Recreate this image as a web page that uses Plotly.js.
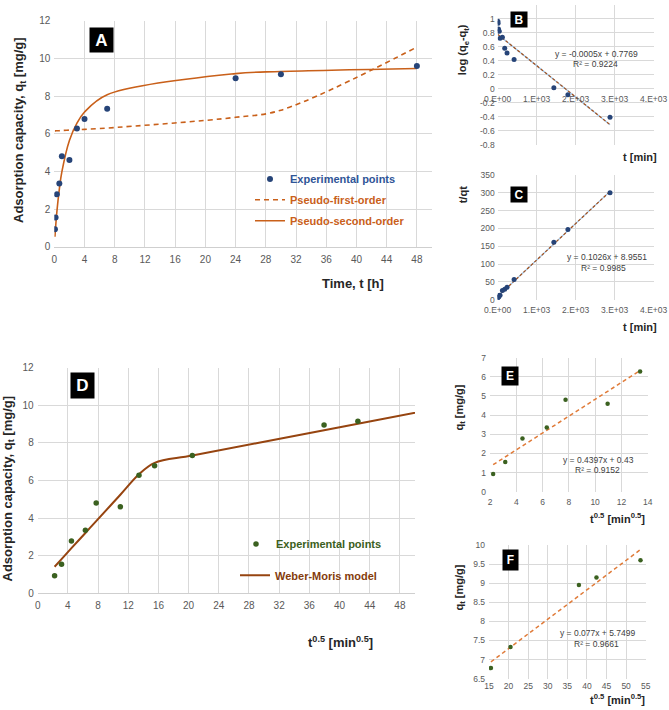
<!DOCTYPE html>
<html><head><meta charset="utf-8">
<script src="https://cdn.plot.ly/plotly-3.0.1.min.js"></script>
<style>html,body{margin:0;padding:0;background:#fff}#chart{width:669px;height:710px}</style>
</head><body><div id="chart"></div>
<script>
// ---------- DATA ----------
// Panel A: kinetic data vs time [h]
const timeHours = [0.083, 0.167, 0.333, 0.667, 1, 2, 3, 4, 7, 24, 30, 48];
const qtExp     = [0.93, 1.55, 2.78, 3.35, 4.8, 4.6, 6.28, 6.78, 7.33, 8.95, 9.15, 9.6];
const qtPFO     = [6.15, 6.15, 6.16, 6.16, 6.17, 6.19, 6.21, 6.23, 6.3, 6.87, 7.25, 10.6];
const qtPSO     = [0.53, 1.0, 1.82, 3.06, 3.97, 5.64, 6.56, 7.15, 8.07, 9.19, 9.3, 9.46];
// Panel B: log(qe-qt) vs t [min]
const timeMin   = [5, 10, 20, 40, 60, 120, 180, 240, 420, 1440, 1800, 2880];
const logQeQt   = [0.964, 0.935, 0.855, 0.82, 0.72, 0.735, 0.58, 0.51, 0.42, 0.015, -0.085, -0.405];
const trendBx   = [5, 2880];
const trendBy   = [0.775, -0.51];
// Panel C: t/qt vs t [min]
const tOverQt   = [5.5, 6.5, 7.5, 12, 12.5, 26, 29, 35, 57, 161, 197, 300];
const trendCx   = [5, 2880];
const trendCy   = [9.5, 304];
// Panel D: Weber-Morris, qt vs t^0.5
const sqrtT     = [2.24, 3.16, 4.47, 6.32, 7.75, 10.95, 13.42, 15.49, 20.49, 37.95, 42.43, 53.67];
const qtWM      = [1.41, 1.82, 2.4, 3.21, 3.84, 5.24, 6.33, 6.94, 7.33, 8.67, 9.02, 9.88];
// Panel E / F trend lines
const trendEx   = [2.24, 13.42];
const trendEy   = [1.41, 6.33];
const trendFx   = [15.49, 53.67];
const trendFy   = [6.94, 9.88];
// Tick labels
const sciTickVals = [0, 1000, 2000, 3000, 4000];
const sciTickText = ['0.E+00', '1.E+03', '2.E+03', '3.E+03', '4.E+03'];
const logTickVals = [-0.8, -0.6, -0.4, -0.2, 0, 0.2, 0.4, 0.6, 0.8, 1, 1.2];
const logTickText = ['-0.8', '-0.6', '-0.4', '-0.2', '0', '0.2', '0.4', '0.6', '0.8', '1', '1.2'];
// Text
const eqB = ['y = -0.0005x + 0.7769', 'R² = 0.9224'];
const eqC = ['y = 0.1026x + 8.9551', 'R² = 0.9985'];
const eqE = ['y = 0.4397x + 0.43', 'R² = 0.9152'];
const eqF = ['y = 0.077x + 5.7499', 'R² = 0.9661'];

// ---------- STYLE ----------
const W = 669, H = 710;
const F = 'Liberation Sans, Arial, sans-serif';
const blue = '#264478', green = '#3B6120', orange = '#C9601A', brown = '#964410', trendOr = '#E07B39';
const fx = p => p / W, fy = p => 1 - p / H;

function axis(o) {
  return Object.assign({
    showgrid: true, gridcolor: '#D9D9D9', gridwidth: 1, zeroline: false, showline: false,
    ticks: '', tickfont: {family: F, size: 8.5, color: '#595959'}, fixedrange: true
  }, o);
}
function ann(text, px, py, o) {
  return Object.assign({xref: 'paper', yref: 'paper', x: fx(px), y: fy(py), xanchor: 'center', yanchor: 'middle',
    showarrow: false, text: text, font: {family: F, size: 8.5, color: '#404040'}}, o || {});
}
function title(text, px, py, size, rot) {
  return ann(text, px, py, {textangle: rot ? -90 : 0, font: {family: F, size: size, color: '#262626', weight: 'bold'}});
}
function box(text, cx, cy, w, h, size) {
  return ann(text, cx, cy, {bgcolor: '#000000', width: w, height: h, borderpad: 0,
    font: {family: F, size: size, color: '#FFFFFF', weight: 'bold'}});
}
function leg(px, py, color) {
  return {x: fx(px), y: fy(py), xanchor: 'left', yanchor: 'middle', bgcolor: 'rgba(0,0,0,0)', borderwidth: 0,
    itemwidth: 30, font: {family: F, size: 11, color: color, weight: 'bold'}};
}

const traces = [
  // A
  {x: timeHours, y: qtPFO, xaxis: 'x', yaxis: 'y', mode: 'lines', name: 'Pseudo-first-order',
   line: {color: orange, width: 1.6, dash: '5px,4px', shape: 'spline'}, legend: 'legend2'},
  {x: timeHours, y: qtPSO, xaxis: 'x', yaxis: 'y', mode: 'lines', name: 'Pseudo-second-order',
   line: {color: orange, width: 1.6, shape: 'spline'}, legend: 'legend3'},
  {x: timeHours, y: qtExp, xaxis: 'x', yaxis: 'y', mode: 'markers', name: 'Experimental points',
   marker: {color: blue, size: 6}, legend: 'legend'},
  // B
  {x: trendBx, y: trendBy, xaxis: 'x2', yaxis: 'y2', mode: 'lines', showlegend: false,
   line: {color: '#9DC3E6', width: 1.2}},
  {x: trendBx, y: trendBy, xaxis: 'x2', yaxis: 'y2', mode: 'lines', showlegend: false,
   line: {color: '#A5501A', width: 1.2, dash: '3px,2px'}},
  {x: timeMin, y: logQeQt, xaxis: 'x2', yaxis: 'y2', mode: 'markers', showlegend: false,
   marker: {color: blue, size: 5}},
  // C
  {x: trendCx, y: trendCy, xaxis: 'x3', yaxis: 'y3', mode: 'lines', showlegend: false,
   line: {color: '#9DC3E6', width: 1.2}},
  {x: trendCx, y: trendCy, xaxis: 'x3', yaxis: 'y3', mode: 'lines', showlegend: false,
   line: {color: '#A5501A', width: 1.2, dash: '3px,2px'}},
  {x: timeMin, y: tOverQt, xaxis: 'x3', yaxis: 'y3', mode: 'markers', showlegend: false,
   marker: {color: blue, size: 5}},
  // D
  {x: sqrtT, y: qtWM, xaxis: 'x4', yaxis: 'y4', mode: 'lines', name: 'Weber-Moris model',
   line: {color: brown, width: 2, shape: 'spline'}, legend: 'legend5'},
  {x: sqrtT, y: qtExp, xaxis: 'x4', yaxis: 'y4', mode: 'markers', name: 'Experimental points',
   marker: {color: green, size: 5.5}, legend: 'legend4'},
  // E
  {x: trendEx, y: trendEy, xaxis: 'x5', yaxis: 'y5', mode: 'lines', showlegend: false,
   line: {color: trendOr, width: 1.5, dash: '4px,3px'}},
  {x: sqrtT.slice(0, 7), y: qtExp.slice(0, 7), xaxis: 'x5', yaxis: 'y5', mode: 'markers', showlegend: false,
   marker: {color: green, size: 4.5}},
  // F
  {x: trendFx, y: trendFy, xaxis: 'x6', yaxis: 'y6', mode: 'lines', showlegend: false,
   line: {color: trendOr, width: 1.5, dash: '4px,3px'}},
  {x: sqrtT.slice(7), y: qtExp.slice(7), xaxis: 'x6', yaxis: 'y6', mode: 'markers', showlegend: false,
   marker: {color: green, size: 4.5}}
];

const bigTick = {family: F, size: 10, color: '#595959'};
const layout = {
  width: W, height: H, autosize: false, margin: {l: 0, r: 0, t: 0, b: 0},
  paper_bgcolor: '#FFFFFF', plot_bgcolor: '#FFFFFF', font: {family: F},
  // A
  xaxis: axis({domain: [fx(54.3), fx(432)], range: [0, 50], dtick: 4, tick0: 0, anchor: 'y', tickfont: bigTick,
               showline: true, linecolor: '#CFCFCF', ticklabelstandoff: 3}),
  yaxis: axis({domain: [fy(246.7), fy(20.7)], range: [0, 12], dtick: 2, anchor: 'x', tickfont: bigTick, ticklabelstandoff: 3}),
  // B
  xaxis2: axis({domain: [fx(497.7), fx(653.7)], range: [0, 4000], tickvals: sciTickVals, ticktext: sciTickText,
                anchor: 'free', position: fy(88.3), ticklabelstandoff: 4}),
  yaxis2: axis({domain: [fy(145), fy(4.7)], range: [-0.8, 1.2], tickvals: logTickVals, ticktext: logTickText, anchor: 'x2', ticklabelstandoff: 2}),
  // C
  xaxis3: axis({domain: [fx(497.7), fx(653.7)], range: [0, 4000], tickvals: sciTickVals, ticktext: sciTickText, anchor: 'y3', ticklabelstandoff: 4}),
  yaxis3: axis({domain: [fy(299.7), fy(175)], range: [0, 350], dtick: 50, anchor: 'x3', ticklabelstandoff: 2}),
  // D
  xaxis4: axis({domain: [fx(37.7), fx(415)], range: [0, 50], dtick: 4, tick0: 0, anchor: 'y4', tickfont: bigTick,
                showline: true, linecolor: '#CFCFCF', ticklabelstandoff: 3}),
  yaxis4: axis({domain: [fy(593.3), fy(367.7)], range: [0, 12], dtick: 2, anchor: 'x4', tickfont: bigTick, ticklabelstandoff: 3}),
  // E
  xaxis5: axis({domain: [fx(490), fx(647.7)], range: [2, 14], dtick: 2, tick0: 2, anchor: 'y5', ticklabelstandoff: 4}),
  yaxis5: axis({domain: [fy(491.7), fy(357.7)], range: [0, 7], dtick: 1, anchor: 'x5', ticklabelstandoff: 3}),
  // F
  xaxis6: axis({domain: [fx(489), fx(645.7)], range: [15, 55], dtick: 5, tick0: 15, anchor: 'y6', ticklabelstandoff: 1}),
  yaxis6: axis({domain: [fy(678.7), fy(545)], range: [6.5, 10], dtick: 0.5, anchor: 'x6', ticklabelstandoff: 3}),
  legend: leg(250, 179, '#2F5597'),
  legend2: leg(250, 199.7, orange),
  legend3: leg(250, 220.7, orange),
  legend4: leg(236, 544, '#3B5E20'),
  legend5: leg(235, 575.3, '#843C0C'),
  annotations: [
    box('A', 101, 40.3, 23, 24, 17),
    box('B', 519.2, 19.2, 16, 15, 12),
    box('C', 519.2, 194.2, 16, 15, 12),
    box('D', 82, 385.8, 23, 25, 17),
    box('E', 510, 375.8, 16, 18, 12),
    box('F', 510.8, 560, 15, 20, 12),
    title('Adsorption capacity, q<sub>t</sub> [mg/g]', 20, 130, 13, true),
    title('Time, t [h]', 353, 283, 13, false),
    title('log (q<sub>e</sub>-q<sub>t</sub>)', 463.3, 50, 11, true),
    title('t [min]', 640.3, 156.7, 11, false),
    title('t/qt', 463.3, 195, 11, true),
    title('t [min]', 640.3, 327.3, 11, false),
    title('Adsorption capacity, q<sub>t</sub> [mg/g]', 7.5, 489, 13, true),
    title('t<sup>0.5</sup> [min<sup>0.5</sup>]', 340.3, 641.7, 13, false),
    title('q<sub>t</sub> [mg/g]', 459.5, 408, 11, true),
    title('t<sup>0.5</sup> [min<sup>0.5</sup>]', 617, 518.3, 11, false),
    title('q<sub>t</sub> [mg/g]', 459.5, 588, 11, true),
    title('t<sup>0.5</sup> [min<sup>0.5</sup>]', 617, 699, 11, false),
    ann(eqB[0], 596.7, 54.3), ann(eqB[1], 595.5, 64.3),
    ann(eqC[0], 607, 257.3), ann(eqC[1], 603, 268.3),
    ann(eqE[0], 598, 460), ann(eqE[1], 597.5, 470),
    ann(eqF[0], 597, 633.3), ann(eqF[1], 596.7, 644)
  ]
};
Plotly.newPlot('chart', traces, layout, {staticPlot: true, displayModeBar: false});
</script>
</body></html>
